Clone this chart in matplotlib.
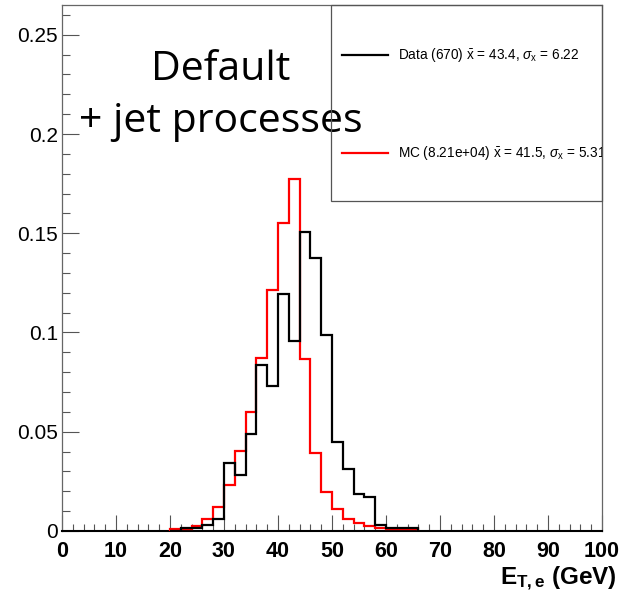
import numpy as np
import matplotlib.pyplot as plt
from matplotlib.patches import Rectangle
from matplotlib.lines import Line2D
from matplotlib.ticker import MultipleLocator, FixedLocator, FixedFormatter

plt.rcParams['font.family'] = ['Liberation Sans', 'DejaVu Sans']
plt.rcParams['mathtext.fontset'] = 'custom'
plt.rcParams['mathtext.rm'] = 'Liberation Sans'
plt.rcParams['mathtext.it'] = 'Liberation Sans:italic'
plt.rcParams['mathtext.bf'] = 'Liberation Sans:bold'

# bins of 2 GeV, first bin starts at 20 GeV
bin_start = 20
bin_width = 2
data_vals = [0.0, 0.0015, 0.0015, 0.003, 0.006, 0.0343, 0.0284, 0.049, 0.0836, 0.073,
             0.1194, 0.0955, 0.1507, 0.1373, 0.0985, 0.0448, 0.0313, 0.0187, 0.017,
             0.003, 0.0015, 0.0015, 0.0015]
mc_vals = [0.0008, 0.001, 0.0027, 0.006, 0.0123, 0.0232, 0.0402, 0.0599, 0.0873, 0.1212,
           0.1554, 0.1773, 0.0868, 0.0394, 0.0198, 0.0111, 0.006, 0.0039, 0.0025,
           0.0015, 0.001, 0.001, 0.001]

data_label = r'Data (670) $\bar{\mathrm{x}}$ = 43.4, $\sigma_{\mathrm{x}}$ = 6.22'
mc_label = r'MC (8.21e+04) $\bar{\mathrm{x}}$ = 41.5, $\sigma_{\mathrm{x}}$ = 5.31'
x_ticks = [0, 10, 20, 30, 40, 50, 60, 70, 80, 90, 100]
y_ticks = [0, 0.05, 0.1, 0.15, 0.2, 0.25]
y_tick_labels = ['0', '0.05', '0.1', '0.15', '0.2', '0.25']

edges = bin_start + bin_width * np.arange(len(data_vals) + 1)

fig = plt.figure(figsize=(6.21, 5.97), dpi=100)
ax = fig.add_axes([0.0998, 0.1106, 0.8696, 0.881])

# full range baseline (empty bins)
ax.plot([0, 100], [0, 0], color='black', lw=2, zorder=2)
ax.stairs(mc_vals, edges, color='red', lw=1.6, baseline=0, zorder=3)
ax.stairs(data_vals, edges, color='black', lw=1.6, baseline=0, zorder=4)

ax.set_xlim(0, 100)
ax.set_ylim(0, 0.265)

ax.xaxis.set_major_locator(FixedLocator(x_ticks))
ax.xaxis.set_minor_locator(MultipleLocator(2))
ax.yaxis.set_major_locator(FixedLocator(y_ticks))
ax.yaxis.set_major_formatter(FixedFormatter(y_tick_labels))
ax.yaxis.set_minor_locator(MultipleLocator(0.01))

ax.tick_params(axis='x', which='major', direction='in', length=11.5, width=0.8,
               color='#555555', labelsize=15.5, pad=7)
ax.tick_params(axis='x', which='minor', direction='in', length=5, width=0.8, color='#555555')
ax.tick_params(axis='y', which='major', direction='in', length=12, width=0.8,
               color='#555555', labelsize=15, pad=3)
ax.tick_params(axis='y', which='minor', direction='in', length=5.5, width=0.8, color='#555555')
for lab in ax.get_xticklabels():
    lab.set_fontweight('bold')

for side in ['top', 'right', 'left']:
    ax.spines[side].set_color('#666666')
    ax.spines[side].set_linewidth(0.9)
ax.spines['bottom'].set_color('black')
ax.spines['bottom'].set_linewidth(1.5)

# x axis title, right aligned like ROOT
fig.text(617 / 621, 12 / 597, r'$\mathbf{E}_{\mathbf{T,e}}$ (GeV)', ha='right', va='baseline',
         fontsize=17.5, fontweight='bold')

# annotation text
ax.text(0.294, 0.857, 'Default', transform=ax.transAxes, ha='center', va='baseline',
        fontsize=29.5, family=['Open Sans', 'DejaVu Sans'], zorder=1)
ax.text(0.031, 0.759, '+ jet processes', transform=ax.transAxes, ha='left', va='baseline',
        fontsize=29.5, family=['Open Sans', 'DejaVu Sans'], zorder=1)

# legend box
box_x0, box_y0 = 0.4986, 0.627
ax.add_patch(Rectangle((box_x0, box_y0), 1 - box_x0, 1 - box_y0, transform=ax.transAxes,
                       fill=False, edgecolor='#555555', lw=0.9, zorder=6, clip_on=False))
entries = [(data_label, 'black', 0.905), (mc_label, 'red', 0.719)]
for label, col, yy in entries:
    ax.add_line(Line2D([0.518, 0.604], [yy, yy], transform=ax.transAxes, color=col,
                       lw=1.6, zorder=6))
    ax.text(0.622, yy, label, transform=ax.transAxes, ha='left', va='center',
            fontsize=9.8, zorder=6, clip_on=True)

fig.savefig('out.png', dpi=100)
